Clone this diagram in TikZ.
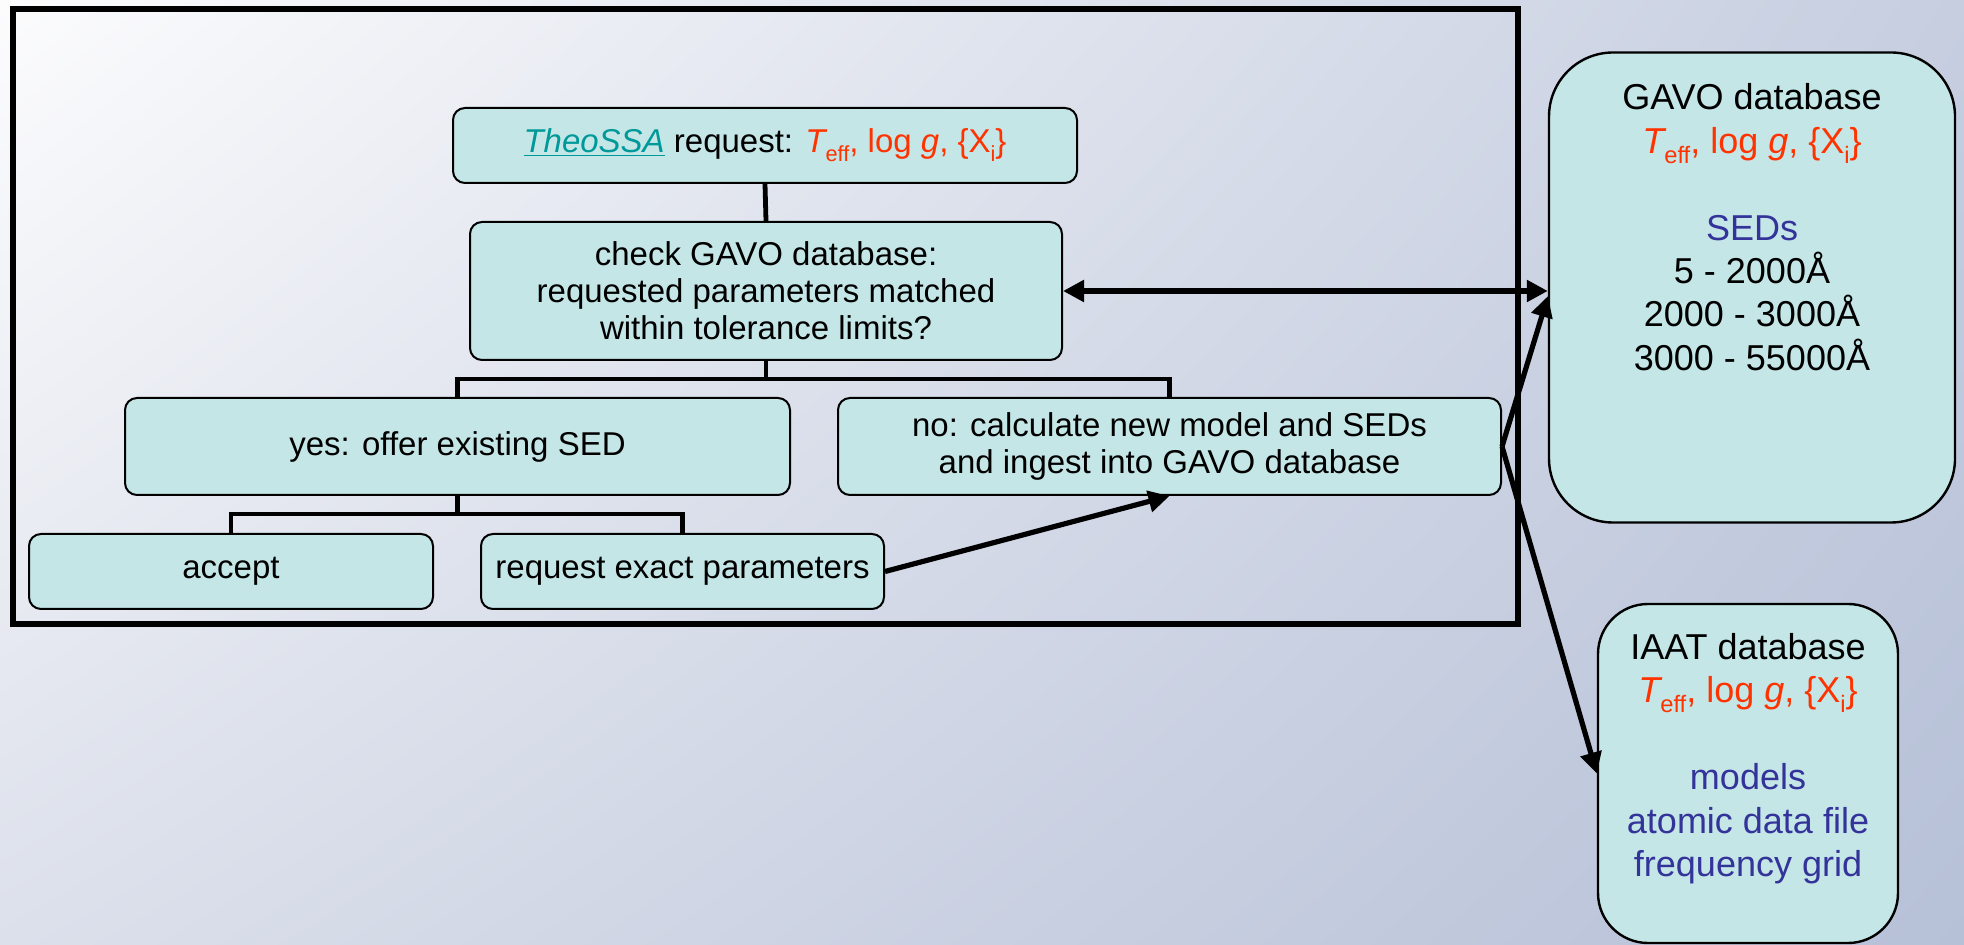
\documentclass[tikz,border=0pt]{standalone}
\usepackage{fontspec}
\setmainfont{Liberation Sans}
\usetikzlibrary{arrows.meta,calc,shadings}
\definecolor{boxfill}{RGB}{196,230,231}
\definecolor{redtxt}{RGB}{255,51,0}
\definecolor{bluetxt}{RGB}{51,51,153}
\definecolor{tealtxt}{RGB}{0,153,153}
\definecolor{bgA}{RGB}{252,252,253}
\definecolor{bgB}{RGB}{198,206,224}
\definecolor{bgC}{RGB}{220,224,235}
\definecolor{bgD}{RGB}{182,192,215}
\newcommand{\lowsub}[1]{\raisebox{-0.28em}{\scalebox{0.66}{#1}}}
\newcommand{\physparams}{{\itshape T}\lowsub{eff}, log {\itshape g}, \{X\lowsub{i}\}}
\begin{document}
\begin{tikzpicture}[x=0.5pt,y=-0.5pt,
  box/.style={draw=black, line width=1pt, fill=boxfill, rounded corners=6pt, inner sep=0pt,
    align=center, font=\fontsize{16.5}{18.5}\selectfont},
  dbbox/.style={draw=black, line width=1.2pt, fill=boxfill, inner sep=0pt},
  dbtext/.style={inner sep=0pt, align=center, font=\fontsize{18}{21.7}\selectfont, anchor=north},
  tree/.style={line width=2.4pt},
  arr/.style={line width=2.6pt, -{Triangle[length=10.5pt,width=10.5pt]}},
  darr/.style={line width=2.6pt, {Triangle[length=10.5pt,width=10.5pt]}-{Triangle[length=10.5pt,width=10.5pt]}}
]
\shade[upper left=bgA, upper right=bgB, lower left=bgC, lower right=bgD] (0,0) rectangle (1964,945);
\useasboundingbox (0,0) rectangle (1964,945);

% frame
\node[draw=black, line width=2.8pt, inner sep=0pt, minimum width=752.5pt, minimum height=307.5pt] (frame) at (765.5,316.5) {};

% flow boxes
\node[box, minimum width=312pt, minimum height=37.5pt] (theo) at (765,145.5)
  {\textcolor{tealtxt}{\underline{\itshape TheoSSA}} request: \textcolor{redtxt}{\physparams}};
\node[box, minimum width=296pt, minimum height=69pt] (check) at (766,291)
  {check GAVO database:\\requested parameters matched\\within tolerance limits?};
\node[box, minimum width=332.5pt, minimum height=48.5pt] (yes) at (457.5,446.5) {yes: offer existing SED};
\node[box, minimum width=331.5pt, minimum height=48.5pt] (no) at (1169.5,446.5)
  {no: calculate new model and SEDs\\and ingest into GAVO database};
\node[box, minimum width=202pt, minimum height=37.5pt] (accept) at (231,571.5) {accept};
\node[box, minimum width=201.5pt, minimum height=37.5pt] (req) at (682.5,571.5) {request exact parameters};

% databases
\node[dbbox, rounded corners=32pt, minimum width=203pt, minimum height=235pt] (gavo) at (1752,287.5) {};
\node[dbtext] (gavotext) at (1752,83.5)
  {GAVO database\\\textcolor{redtxt}{\physparams}\\[21.7pt]\textcolor{bluetxt}{SEDs}\\5 - 2000Å\\2000 - 3000Å\\3000 - 55000Å};
\node[dbbox, rounded corners=25pt, minimum width=150pt, minimum height=169.5pt] (iaat) at (1748,773.5) {};
\node[dbtext] (iaattext) at (1748,633)
  {IAAT database\\\textcolor{redtxt}{\physparams}\\[21.7pt]\textcolor{bluetxt}{models}\\\textcolor{bluetxt}{atomic data file}\\\textcolor{bluetxt}{frequency grid}};

% tree connectors
\coordinate (bar1) at (0,379);
\coordinate (bar2) at (0,514);
\draw[tree] (theo.south) -- (check.north);
\draw[tree] (check.south) -- (check.south |- bar1);
\draw[tree] (yes.north) |- (bar1 -| no.north) -- (no.north);
\draw[tree] (yes.south) -- (yes.south |- bar2);
\draw[tree] (accept.north) |- (bar2 -| req.north) -- (req.north);

% arrows
\coordinate (gavoin) at (1548,296);
\draw[darr] (check.east) -- (check.east -| gavo.west);
\draw[arr] (no.east) -- (gavoin);
\draw[arr] (no.east) -- (iaat.west);
\draw[arr] (req.east) -- (no.south);
\end{tikzpicture}
\end{document}
